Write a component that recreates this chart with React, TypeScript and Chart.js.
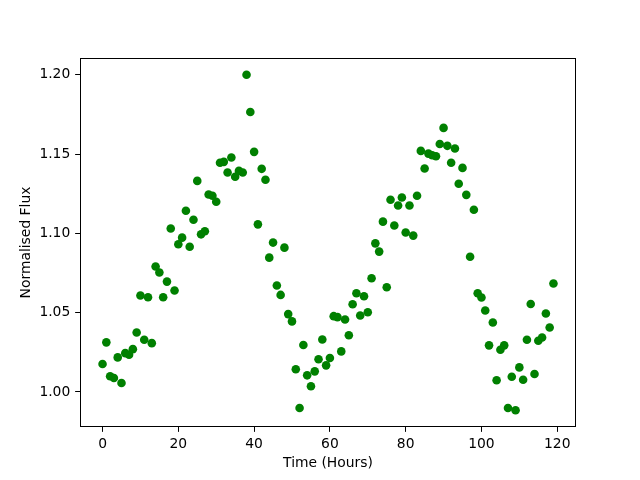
import React, { useEffect, useRef } from "react";
import { Chart, registerables } from "chart.js";

Chart.register(...registerables);

const hours: number[] = Array.from({ length: 120 }, (_, i) => i);

const flux: number[] = [
  1.0176, 1.0313, 1.0099, 1.0088, 1.0218, 1.0057, 1.0245, 1.0235, 1.027, 1.0375,
  1.0608, 1.0329, 1.0597, 1.0308, 1.0791, 1.0753, 1.0597, 1.0696, 1.1031, 1.064,
  1.0931, 1.0973, 1.1143, 1.0916, 1.1086, 1.1331, 1.0994, 1.1013, 1.1245, 1.1237,
  1.1199, 1.1445, 1.1451, 1.1384, 1.1478, 1.1357, 1.1394, 1.1384, 1.2, 1.1765,
  1.1514, 1.1057, 1.1407, 1.1338, 1.0847, 1.0942, 1.0671, 1.0612, 1.091, 1.0491,
  1.0445, 1.0143, 0.9899, 1.0296, 1.0105, 1.0036, 1.013, 1.0206, 1.0331, 1.0168,
  1.0214, 1.0478, 1.0472, 1.0256, 1.0457, 1.0358, 1.0553, 1.0623, 1.0482, 1.0604,
  1.0503, 1.0717, 1.0937, 1.0885, 1.1074, 1.066, 1.1212, 1.105, 1.1176, 1.1226,
  1.1006, 1.1176, 1.0986, 1.1237, 1.152, 1.1409, 1.1503, 1.1493, 1.1486, 1.1564,
  1.1665, 1.1552, 1.1445, 1.1535, 1.1313, 1.1413, 1.1243, 1.0853, 1.1149, 1.0623,
  1.0596, 1.0514, 1.0294, 1.0438, 1.0074, 1.0266, 1.0294, 0.9899, 1.0096, 0.9885,
  1.0155, 1.0077, 1.0329, 1.0555, 1.0113, 1.0323, 1.0344, 1.0495, 1.0407, 1.0684,
];

const xTicks: number[] = [0, 20, 40, 60, 80, 100, 120];
const yTicks: number[] = [1.0, 1.05, 1.1, 1.15, 1.2];

const FONT = "'DejaVu Sans', sans-serif";
const FS = 13.89;
const TICK = 4.86;

const boxPlugin = {
  id: "box",
  afterDatasetsDraw(chart: any) {
    const { ctx, chartArea } = chart;
    const { left, top, right, bottom } = chartArea;
    ctx.save();
    ctx.strokeStyle = "#000";
    ctx.lineWidth = 1;
    ctx.strokeRect(left + 0.5, top + 0.5, right - left - 1, bottom - top - 1);
    ctx.restore();
  },
};

export default function App() {
  const ref = useRef<HTMLCanvasElement | null>(null);

  useEffect(() => {
    if (!ref.current) return;
    const xMin = Math.min(...hours);
    const xMax = Math.max(...hours);
    const yMin = Math.min(...flux);
    const yMax = Math.max(...flux);
    const xm = (xMax - xMin) * 0.05;
    const ym = (yMax - yMin) * 0.05;

    const chart = new Chart(ref.current, {
      type: "scatter",
      data: {
        datasets: [
          {
            data: hours.map((h, i) => ({ x: h, y: flux[i] })),
            backgroundColor: "#008000",
            borderColor: "#008000",
            borderWidth: 0,
            pointRadius: 4.3,
            pointHoverRadius: 4.3,
          },
        ],
      },
      options: {
        animation: false,
        responsive: false,
        events: [],
        layout: { padding: { left: 0, top: 58, right: 64, bottom: 0 } },
        plugins: { legend: { display: false }, tooltip: { enabled: false } },
        scales: {
          x: {
            type: "linear",
            min: xMin - xm,
            max: xMax + xm,
            afterBuildTicks: (s: any) => {
              s.ticks = xTicks.map((v) => ({ value: v }));
            },
            afterFit: (s: any) => {
              s.height = 53;
            },
            grid: {
              drawOnChartArea: false,
              drawTicks: true,
              tickLength: TICK,
              color: "#000",
            },
            border: { display: false },
            ticks: {
              color: "#000",
              padding: TICK - 1,
              maxRotation: 0,
              font: { family: FONT, size: FS },
              callback: (v: any) => String(v),
            },
            title: {
              display: true,
              text: "Time (Hours)",
              color: "#000",
              font: { family: FONT, size: FS },
              padding: { top: 4, bottom: 8.7 },
            },
          },
          y: {
            type: "linear",
            min: yMin - ym,
            max: yMax + ym,
            afterBuildTicks: (s: any) => {
              s.ticks = yTicks.map((v) => ({ value: v }));
            },
            afterFit: (s: any) => {
              s.width = 80;
            },
            grid: {
              drawOnChartArea: false,
              drawTicks: true,
              tickLength: TICK,
              color: "#000",
            },
            border: { display: false },
            ticks: {
              color: "#000",
              padding: TICK,
              font: { family: FONT, size: FS },
              callback: (v: any) => Number(v).toFixed(2),
            },
            title: {
              display: true,
              text: "Normalised Flux",
              color: "#000",
              font: { family: FONT, size: FS },
              padding: { top: 18.2, bottom: 4 },
            },
          },
        },
      },
      plugins: [boxPlugin],
    });
    return () => chart.destroy();
  }, []);

  return (
    <div style={{ position: "fixed", left: 0, top: 0, width: 640, height: 480, background: "#fff" }}>
      <canvas ref={ref} width={640} height={480} style={{ width: 640, height: 480, display: "block" }} />
    </div>
  );
}
